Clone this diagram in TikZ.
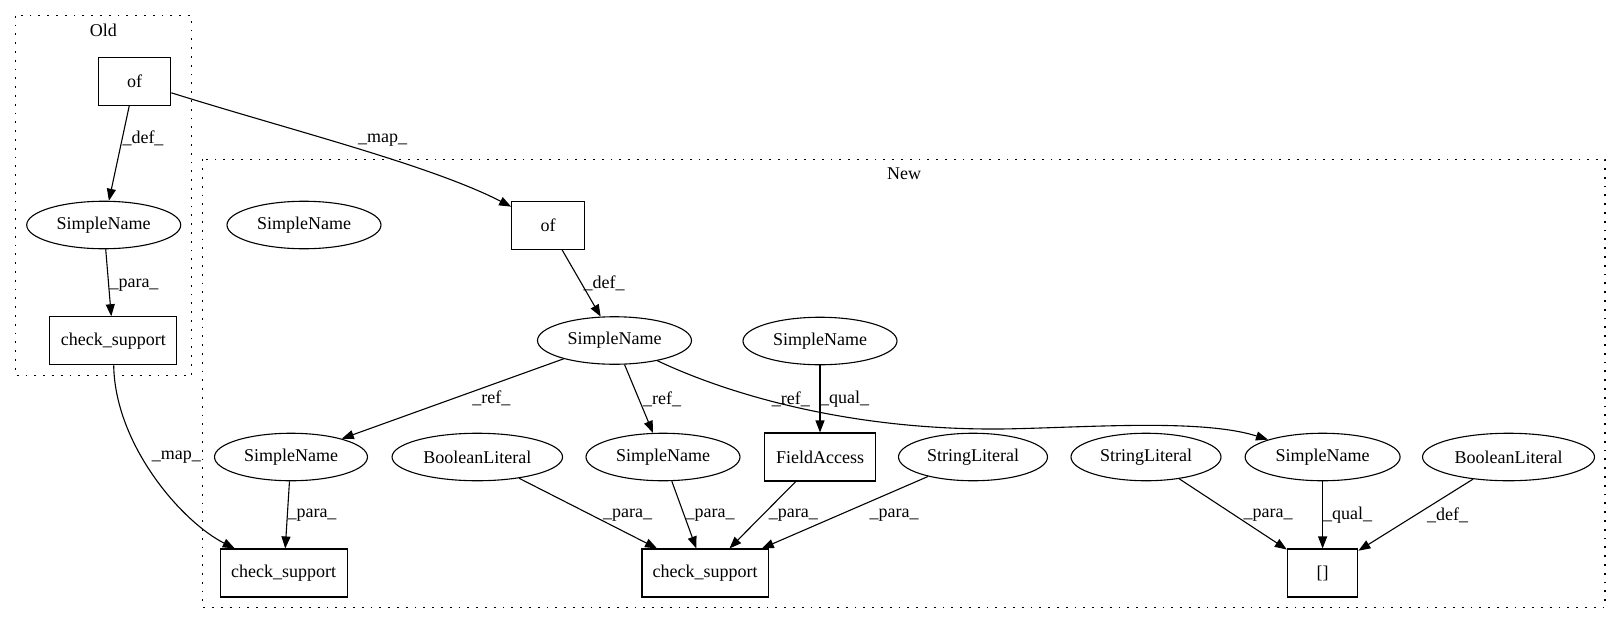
\documentclass[tikz,border=0pt]{standalone}
\usepackage{fontspec}
\setmainfont{Liberation Serif}
\usetikzlibrary{shapes.geometric,arrows.meta}
\begin{document}
\begin{tikzpicture}[x=1pt,y=-1pt,
  every node/.style={font=\fontsize{18}{21}\selectfont},
  ell/.style={draw, ellipse, line width=1.1pt, minimum height=47.5pt, inner sep=0pt},
  box/.style={draw, rectangle, line width=1.1pt, minimum height=48pt, inner sep=0pt},
  cluster/.style={line width=1.4pt, dash pattern=on 1.8pt off 7pt},
  edge/.style={line width=1.1pt, -{Triangle[length=12pt,width=9pt]}},
  lab/.style={inner sep=0pt}
]
\useasboundingbox (0,0) rectangle (1621,624);

% clusters
\draw[cluster] (15.7,15.7) rectangle (191.7,375.5);
\draw[cluster] (202.5,159.3) rectangle (1605,607.3);
\node[lab] (oldlab) at (103.3,30) {Old};
\node[lab] (newlab) at (904,174) {New};

% Old nodes
\node[box, minimum width=72.5pt] (ofold) at (134.5,81.3) {of};
\node[ell, minimum width=154pt] (snold) at (103.7,225) {SimpleName};
\node[box, minimum width=127pt] (csold) at (113.3,340.8) {check\_support};

% New nodes
\node[ell, minimum width=154pt] (sniso) at (304,225) {SimpleName};
\node[box, minimum width=72.5pt] (ofnew) at (548,225.5) {of};
\node[ell, minimum width=154pt] (snmain) at (614.5,340.5) {SimpleName};
\node[ell, minimum width=154pt] (sntop) at (820,341) {SimpleName};
\node[ell, minimum width=153pt] (snL) at (291,457) {SimpleName};
\node[ell, minimum width=170.5pt] (boolA) at (477.3,457) {BooleanLiteral};
\node[ell, minimum width=154pt] (snmid) at (663,457) {SimpleName};
\node[box, minimum width=110.5pt] (fa) at (820,457) {FieldAccess};
\node[ell, minimum width=149pt] (strA) at (973,457) {StringLiteral};
\node[ell, minimum width=150pt] (strB) at (1146,457) {StringLiteral};
\node[ell, minimum width=155pt] (snR) at (1322.6,457) {SimpleName};
\node[ell, minimum width=172pt] (boolB) at (1508.5,457) {BooleanLiteral};
\node[box, minimum width=127pt] (csL) at (283.7,573) {check\_support};
\node[box, minimum width=126.5pt] (csmid) at (705.2,573) {check\_support};
\node[box, minimum width=70.5pt] (br) at (1322.6,573) {[]};

% edges
\draw[edge] (ofold) -- (snold);
\draw[edge] (snold) -- (csold);
\draw[edge] (ofold) .. controls (290,130) and (430,165) .. (ofnew);
\draw[edge] (csold) .. controls (115,445) and (182,522) .. (csL);
\draw[edge] (ofnew) -- (snmain);
\draw[edge] (snmain) -- (snL);
\draw[edge] (snmain) -- (snmid);
\coordinate (refmid) at (1000,429);
\draw[edge] (snmain) .. controls (730,395) and (850,430) .. (refmid)
  .. controls (1080,428) and (1200,418) .. (snR);
\draw[edge] (sntop) -- (fa);
\draw[edge] (snL) -- (csL);
\draw[edge] (boolA) -- (csmid);
\draw[edge] (snmid) -- (csmid);
\draw[edge] (fa) -- (csmid);
\draw[edge] (strA) -- (csmid);
\draw[edge] (strB) -- (br);
\draw[edge] (snR) -- (br);
\draw[edge] (boolB) -- (br);

% edge labels
\node[lab] (l1) at (143,138.3) {\_def\_};
\node[lab] (l2) at (382.7,140) {\_map\_};
\node[lab] (l3) at (134,285) {\_para\_};
\node[lab] (l4) at (176.3,457.3) {\_map\_};
\node[lab] (l5) at (604,283.3) {\_def\_};
\node[lab] (l6) at (491.4,398.3) {\_ref\_};
\node[lab] (l7) at (662,399.5) {\_ref\_};
\node[lab] (l8) at (790.8,399.3) {\_ref\_};
\node[lab] (l9) at (844.7,399.3) {\_qual\_};
\node[lab] (l10) at (312,515) {\_para\_};
\node[lab] (l11) at (627.5,515) {\_para\_};
\node[lab] (l12) at (710,515) {\_para\_};
\node[lab] (l13) at (793.4,515) {\_para\_};
\node[lab] (l14) at (894,515) {\_para\_};
\node[lab] (l15) at (1268,515) {\_para\_};
\node[lab] (l16) at (1347.5,515) {\_qual\_};
\node[lab] (l17) at (1447.5,515) {\_def\_};
\end{tikzpicture}
\end{document}
